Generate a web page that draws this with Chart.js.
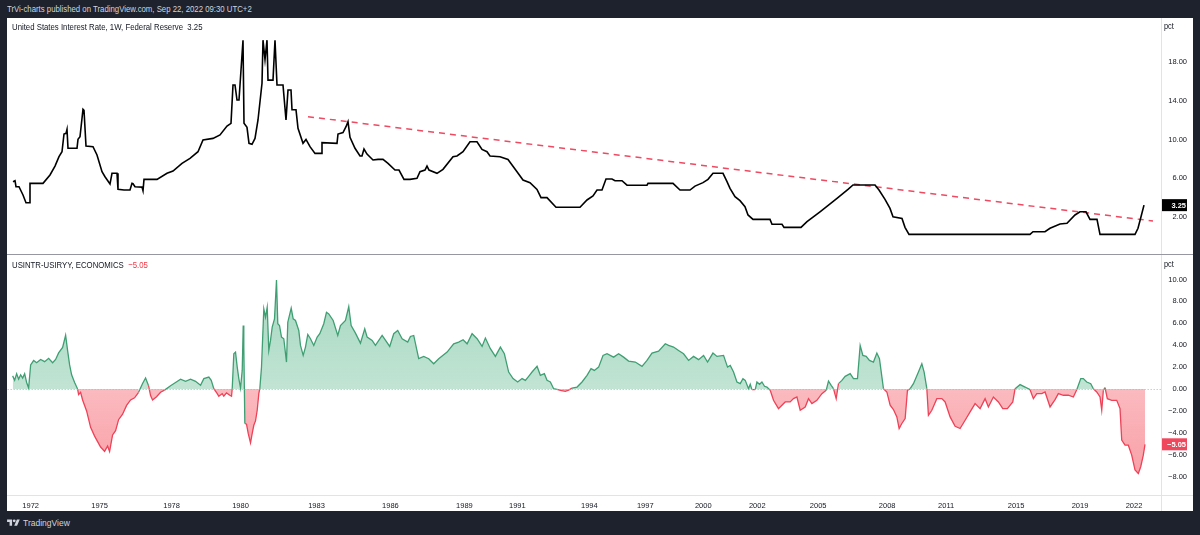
<!DOCTYPE html>
<html><head><meta charset="utf-8">
<script src="https://cdn.jsdelivr.net/npm/chart.js@4.4.0/dist/chart.umd.min.js"></script>
<style>
html,body{margin:0;padding:0;}
body{width:1200px;height:535px;background:#1e222d;position:relative;overflow:hidden;font-family:"Liberation Sans",Arial,sans-serif;}
.sx{transform:scaleX(0.82);transform-origin:0 50%;}
#hdr{position:absolute;left:7px;top:3px;color:#d1d4dc;font-size:9.5px;line-height:12px;white-space:nowrap}
#panel{position:absolute;left:7px;top:18px;width:1186px;height:493px;background:#fff;overflow:hidden}
canvas{position:absolute;left:0}
#cTop{top:0}
#cBot{top:237px}
.sep{position:absolute;background:#e0e3eb}
.title{position:absolute;left:5px;font-size:9.5px;color:#131722;white-space:nowrap;line-height:12px}
.unit{position:absolute;left:1157px;font-size:9px;color:#131722;line-height:12px}
#footer{position:absolute;left:7px;top:517px;color:#d1d4dc;font-size:8.5px;line-height:12px;display:flex;align-items:center;gap:3px}
</style></head>
<body>
<div id="hdr" class="sx">TrVi-charts published on TradingView.com, Sep 22, 2022 09:30 UTC+2</div>
<div id="panel">
<canvas id="cTop" width="1186" height="236"></canvas>
<canvas id="cBot" width="1186" height="256"></canvas>
<div class="sep" style="left:1154px;top:0;width:1px;height:493px"></div>
<div class="sep" style="left:0;top:236px;width:1186px;height:1px;background:#9598a1"></div>
<div class="sep" style="left:0;top:477px;width:1186px;height:1px"></div>
<div class="title sx" id="tTop" style="top:3px"></div>
<div class="title sx" id="tBot" style="top:241px"></div>
<div class="unit sx" style="top:2px">pct</div>
<div class="unit sx" style="top:240px">pct</div>
</div>
<div id="footer"><svg width="13" height="10" viewBox="0 0 36 28"><path fill="#d1d4dc" d="M14 22H7V11H0V4h14v18zM28 22h-8l7.5-18h8L28 22z"/><circle fill="#d1d4dc" cx="20" cy="8" r="4"/></svg><span>TradingView</span></div>
<script>
// ---- data (x = bar position on the time axis, y = percent) ----
const yearLabels = ['1972','1975','1978','1980','1983','1986','1989','1991','1994','1997','2000','2002','2005','2008','2011','2015','2019','2022'];
const yearTickBars = [30,99,171,240,316,390,464,517,589,645,703,757,818,887,946,1016,1080,1134];
const rateTickValues = [2,6,10,14,18];
const spreadTickValues = [-8,-6,-4,-2,0,2,4,6,8,10];

const ratePoints = [[13,5.66],[15,5.76],[16,5.14],[19,5.14],[23,4.29],[26,3.5],[29,3.5],[30,5.49],[43,5.49],[50,6.35],[55,7.27],[59,8.23],[62,8.74],[64,10.56],[66,10.63],[67,11.04],[68,9.09],[77,9.09],[78,10.01],[80,10.28],[83,13.1],[84,13.0],[86,9.33],[93,9.26],[97,8.4],[102,6.69],[105,6.17],[110,5.42],[112,6.52],[117,6.52],[118,4.87],[124,4.8],[130,4.8],[132,5.49],[133,5.45],[135,5.14],[142,5.1],[143,4.73],[144,5.9],[157,5.9],[167,6.52],[173,6.76],[182,7.55],[190,8.06],[198,8.74],[203,9.94],[213,10.11],[220,10.46],[227,11.38],[231,11.66],[233,15.6],[235,15.6],[237,14.05],[239,14.05],[243,20.2],[244,11.66],[247,11.25],[249,9.6],[252,9.5],[255,10.1],[258,12.0],[262,15.77],[263,20.2],[265,18.2],[267,20.2],[268,16.1],[273,16.1],[275,20.2],[277,15.6],[283,15.6],[286,12.0],[288,15.08],[291,15.08],[292,13.05],[296,13.05],[298,11.15],[303,9.6],[306,10.0],[310,9.26],[315,8.57],[321,8.57],[322,9.67],[337,9.6],[338,10.56],[343,10.7],[346,11.31],[348,11.83],[350,10.22],[355,9.09],[360,8.3],[362,8.3],[364,9.02],[367,8.5],[373,7.89],[378,7.95],[383,7.95],[388,7.55],[395,6.86],[399,6.86],[404,5.9],[410,5.9],[417,6.0],[420,6.69],[425,6.86],[427,7.27],[429,6.86],[437,6.52],[443,6.93],[453,8.23],[457,8.3],[463,8.74],[470,9.77],[477,9.77],[482,8.98],[487,8.74],[490,8.3],[500,8.23],[508,7.95],[517,6.69],[523,5.83],[530,5.56],[537,4.87],[541,4.02],[547,4.02],[556,3.03],[580,3.03],[587,3.78],[593,4.19],[597,4.8],[602,4.8],[606,5.93],[612,5.93],[615,5.76],[622,5.76],[627,5.3],[647,5.3],[648,5.49],[673,5.49],[680,4.8],[690,4.8],[695,5.21],[703,5.56],[708,5.9],[713,6.52],[723,6.52],[727,5.66],[730,4.97],[735,4.12],[740,3.71],[745,3.09],[748,2.24],[753,1.79],[770,1.79],[772,1.28],[782,1.28],[784,0.97],[801,0.97],[807,1.55],[820,2.57],[837,3.95],[848,4.87],[853,5.32],[875,5.32],[879,4.8],[885,3.85],[890,2.92],[893,2.06],[902,1.89],[905,0.97],[909,0.25],[1030,0.25],[1033,0.52],[1045,0.52],[1050,0.87],[1060,1.31],[1067,1.38],[1075,2.24],[1080,2.57],[1086,2.57],[1090,1.79],[1097,1.79],[1100,0.25],[1135,0.25],[1138,0.87],[1141,2.06],[1144,3.25]];

const trendPoints = [[308,12.34],[1153,1.62]];

const spreadPoints = [[12,1.2],[14,0.8],[16,1.4],[18,0.9],[20,1.3],[22,1.0],[24,1.4],[26,0.6],[28,0.1],[30,2.2],[33,2.6],[36,2.4],[40,2.7],[44,2.5],[48,2.8],[52,2.4],[55,2.7],[58,3.3],[62,3.8],[65,4.9],[67,3.5],[69,2.2],[71,1.3],[74,0.6],[77,0],[78,-0.5],[80,-0.3],[82,-1.0],[86,-2.0],[90,-3.5],[94,-4.3],[97,-4.8],[100,-5.3],[104,-5.7],[107,-5.2],[109,-5.7],[112,-4.2],[115,-3.8],[118,-2.8],[122,-2.3],[126,-1.5],[130,-1.0],[134,-0.8],[138,-0.3],[142,0.5],[145,1.0],[148,0.3],[150,-0.6],[152,-1.0],[156,-0.7],[160,-0.3],[164,-0.1],[170,0.3],[175,0.6],[180,0.9],[185,0.7],[190,0.9],[195,0.7],[200,0.34],[203.3,0.95],[208.3,1.09],[210.7,0.79],[213.3,0.03],[216.7,-0.42],[218.3,-0.66],[221.7,-0.42],[223.3,-0.66],[226,-0.36],[229.3,-0.57],[231,-0.66],[231.7,0.03],[233.3,3.22],[235,3.37],[236.7,2.0],[238.3,0.95],[240,0.09],[241.7,1.7],[242.7,5.8],[243.3,3.83],[244.3,-3.15],[246,-3.21],[247.7,-4.06],[250,-4.92],[251.7,-4.06],[253.3,-3.31],[255,-2.91],[256.7,-1.94],[258.3,-0.42],[259.3,0.03],[261,2.0],[263.3,7.32],[265,6.56],[266.7,7.47],[268.3,3.52],[270,4.44],[271.7,5.65],[274,6.41],[276,9.96],[277.3,5.96],[279,5.8],[281,4.74],[283.3,4.59],[286,2.46],[287.3,6.1],[290.7,7.38],[292.7,6.41],[295,6.26],[298.3,5.35],[300,3.98],[302.7,3.07],[305,3.83],[307.3,4.98],[310,4.59],[313.3,3.98],[316.7,4.74],[319.3,5.05],[323.3,5.96],[326,7.01],[328.3,6.86],[332.7,6.26],[337.3,4.89],[340,5.8],[345,6.26],[348.3,7.53],[350.7,5.8],[355,5.1],[360,4.19],[364.3,5.5],[366.7,4.74],[371.7,4.44],[375,3.98],[381.7,4.89],[389.3,3.89],[393.3,5.05],[397.3,5.35],[401.7,4.59],[407.3,4.28],[410,4.8],[413.3,4.89],[418.3,2.77],[423.3,2.98],[428.3,2.77],[433.3,2.31],[438.3,2.77],[446.7,3.37],[453.3,4.13],[458.3,4.28],[462.7,4.5],[466.7,4.13],[471.7,5.05],[476.7,4.59],[481.7,3.89],[485,4.65],[490,3.68],[495,2.98],[500,3.83],[504,3.22],[508.3,1.55],[512.7,0.95],[517.3,0.64],[521.7,0.95],[525,0.79],[528.3,1.16],[531.7,1.55],[536.7,2.07],[540,1.25],[544,1.4],[546.7,0.79],[550,0.64],[553.3,0.03],[556.7,-0.03],[560,-0.12],[565,-0.21],[568.3,-0.1],[571.7,0.09],[576.7,0.18],[581.7,0.64],[586.7,1.25],[590.7,1.86],[594,1.7],[598.3,2.0],[602.7,3.07],[606.7,3.22],[613.3,2.91],[618.3,3.22],[623.3,2.91],[628.3,2.55],[635,2.46],[641.7,2.07],[646.7,2.61],[651.7,3.28],[658.3,3.46],[665,4.13],[668.3,3.98],[673.3,3.83],[678.3,3.52],[683.3,3.22],[688.3,2.61],[693.3,2.98],[698.3,2.68],[703.3,3.07],[707.3,2.46],[712.7,3.28],[716.7,2.98],[723.3,3.07],[727.3,2.0],[730,2.15],[733.3,1.55],[736.7,0.64],[740,0.49],[742.7,0.95],[745,0.79],[748.3,0.03],[750,0.43],[751.7,-0.06],[755,-0.06],[756.7,0.64],[759.3,0.43],[761.7,0.64],[764.3,0.25],[766.7,0.18],[770,-0.12],[773.3,-1.03],[778.3,-1.79],[780,-1.64],[785,-1.18],[790,-1.18],[793.3,-0.88],[796.7,-0.73],[800,-1.94],[805,-1.64],[808.3,-0.88],[811.7,-1.33],[816.7,-1.03],[821.7,-0.42],[826,-0.12],[828.3,0.73],[831,0.34],[833.3,0.03],[836,-0.88],[838.3,0.49],[841.7,0.79],[845,1.16],[850,1.4],[853.3,0.95],[857.3,0.95],[860,3.98],[862.7,3.07],[866,2.98],[869.3,2.61],[873.3,2.46],[876.7,3.28],[879.3,2.77],[883.3,0.03],[886.7,-0.27],[890,-1.48],[893.3,-1.88],[896.7,-2.55],[899,-3.61],[901.7,-3.15],[905,-2.7],[907.3,-0.12],[910,0.03],[913.3,0.49],[918.3,1.55],[921.7,2.31],[924,1.55],[926.7,0.03],[928.3,-2.4],[931.7,-1.94],[936.7,-0.88],[941.7,-0.88],[945,-1.18],[950,-2.55],[955,-3.4],[960,-3.61],[965,-2.85],[970,-2.09],[975,-1.33],[980,-1.79],[985,-0.88],[988.3,-1.64],[993.3,-0.73],[998.3,-1.18],[1002.7,-1.79],[1007.3,-1.79],[1012.7,-1.18],[1015,0.03],[1020,0.4],[1025,0.18],[1030,-0.06],[1033.3,-0.88],[1036.7,-0.42],[1041.7,-0.42],[1045,-0.27],[1050,-1.64],[1055,-0.97],[1058.3,-0.42],[1063.3,-0.57],[1068.3,-0.57],[1073.3,-0.73],[1076.7,-0.06],[1080.7,0.95],[1083.3,0.95],[1086.7,0.64],[1090.7,0.49],[1093.3,0.03],[1096.7,-0.27],[1100,-0.73],[1101.7,-1.94],[1103.3,-0.12],[1105,0.12],[1107.3,-0.88],[1111.7,-1.03],[1116.7,-1.03],[1120,-1.79],[1121.7,-4.67],[1125,-5.13],[1128.3,-5.13],[1131.7,-6.04],[1135,-7.4],[1138.3,-7.71],[1140.7,-7.1],[1143.3,-6.04],[1145,-5.05]];

// ---- rendering ----
const FONT = "'Liberation Sans', Arial, sans-serif";
const GREEN = '#3f9f73', RED = '#ef4157';
Chart.defaults.font.family = FONT;
Chart.defaults.color = '#131722';
Chart.defaults.animation = false;
const fmt = v => (v < 0 ? '\u2212' : '') + Math.abs(v).toFixed(2);
const toXY = arr => arr.map(([x, y]) => ({x, y}));
const lastRate = ratePoints[ratePoints.length - 1][1];
const lastSpread = spreadPoints[spreadPoints.length - 1][1];

document.getElementById('tTop').innerHTML = 'United States Interest Rate, 1W, Federal Reserve&nbsp;&nbsp;' + lastRate.toFixed(2);
document.getElementById('tBot').innerHTML = 'USINTR-USIRYY, ECONOMICS&nbsp;&nbsp;<span style="color:#f23645">' + fmt(lastSpread) + '</span>';

const badgePlugin = {
  id: 'badge',
  afterDraw(chart, args, opts) {
    const {ctx, chartArea} = chart;
    const y = chart.scales.y.getPixelForValue(opts.value);
    ctx.save();
    ctx.fillStyle = opts.bg;
    ctx.fillRect(chartArea.right, y - 6, 26, 12);
    ctx.fillStyle = '#ffffff';
    ctx.font = 'bold 7.5px ' + FONT;
    ctx.textAlign = 'right';
    ctx.textBaseline = 'middle';
    ctx.fillText(fmt(opts.value), chartArea.right + 25, y + 0.5);
    ctx.restore();
  }
};
const zeroLinePlugin = {
  id: 'zeroLine',
  afterDatasetsDraw(chart) {
    const {ctx, chartArea} = chart;
    const y = Math.round(chart.scales.y.getPixelForValue(0)) + 0.5;
    ctx.save();
    ctx.strokeStyle = '#b2b5be';
    ctx.lineWidth = 1;
    ctx.setLineDash([1, 2]);
    ctx.beginPath(); ctx.moveTo(chartArea.left, y); ctx.lineTo(chartArea.right, y); ctx.stroke();
    ctx.restore();
  }
};

function yAxis(min, max, vals) {
  return {
    position: 'right', min, max,
    afterBuildTicks: s => { s.ticks = vals.map(v => ({value: v})); },
    afterFit: s => { s.width = 26; s.paddingTop = 0; s.paddingBottom = 0; },
    ticks: {crossAlign: 'far', padding: 0, color: '#131722', font: {size: 7.5}, callback: v => fmt(v)},
    grid: {display: false, drawTicks: false},
    border: {display: false}
  };
}

new Chart(document.getElementById('cTop'), {
  type: 'line',
  data: {datasets: [
    {data: toXY(ratePoints), borderColor: '#000000', borderWidth: 1.6, pointRadius: 0, tension: 0, fill: false},
    {data: toXY(trendPoints), borderColor: '#ee4a62', borderWidth: 1.5, borderDash: [6, 5], pointRadius: 0, fill: false}
  ]},
  options: {
    responsive: false, animation: false,
    layout: {padding: {left: 0, right: 6, top: 0, bottom: 0}},
    plugins: {legend: {display: false}, tooltip: {enabled: false}, badge: {value: lastRate, bg: '#000000'}},
    scales: {
      x: {type: 'linear', min: 7, max: 1161, display: false},
      y: yAxis(-1.77, 22.48, rateTickValues)
    }
  },
  plugins: [badgePlugin]
});

const botChart = new Chart(document.getElementById('cBot'), {
  type: 'line',
  data: {datasets: [{
    data: toXY(spreadPoints), borderColor: GREEN, borderWidth: 1.3, pointRadius: 0, tension: 0,
    fill: {target: {value: 0}, above: 'rgba(63,170,120,0.42)', below: 'rgba(242,54,69,0.42)'},
    segment: {borderColor: c => ((c.p0.parsed.y + c.p1.parsed.y) >= 0 ? GREEN : RED)}
  }]},
  options: {
    responsive: false, animation: false,
    layout: {padding: {left: 0, right: 6, top: 0, bottom: 0}},
    plugins: {legend: {display: false}, tooltip: {enabled: false}, badge: {value: lastSpread, bg: '#f0475c'}},
    scales: {
      x: {
        type: 'linear', min: 7, max: 1161,
        afterBuildTicks: s => { s.ticks = yearTickBars.map(v => ({value: v})); },
        afterFit: s => { s.height = 16; s.paddingLeft = 0; s.paddingRight = 0; },
        ticks: {autoSkip: false, maxRotation: 0, padding: 6, color: '#131722', font: {size: 7.5}, callback: (v, i) => yearLabels[i]},
        grid: {display: false, drawTicks: false},
        border: {display: false}
      },
      y: yAxis(-9.68, 12.18, spreadTickValues)
    }
  },
  plugins: [badgePlugin, zeroLinePlugin]
});

// soft gradient fills like the reference
(function () {
  const ca = botChart.chartArea, ctx = botChart.ctx;
  const y0 = botChart.scales.y.getPixelForValue(0);
  const gUp = ctx.createLinearGradient(0, ca.top, 0, y0);
  gUp.addColorStop(0, 'rgba(63,170,120,0.50)');
  gUp.addColorStop(1, 'rgba(63,170,120,0.32)');
  const gDn = ctx.createLinearGradient(0, y0, 0, ca.bottom);
  gDn.addColorStop(0, 'rgba(242,54,69,0.34)');
  gDn.addColorStop(1, 'rgba(242,54,69,0.50)');
  botChart.data.datasets[0].fill = {target: {value: 0}, above: gUp, below: gDn};
  botChart.update('none');
})();
</script>
</body></html>
